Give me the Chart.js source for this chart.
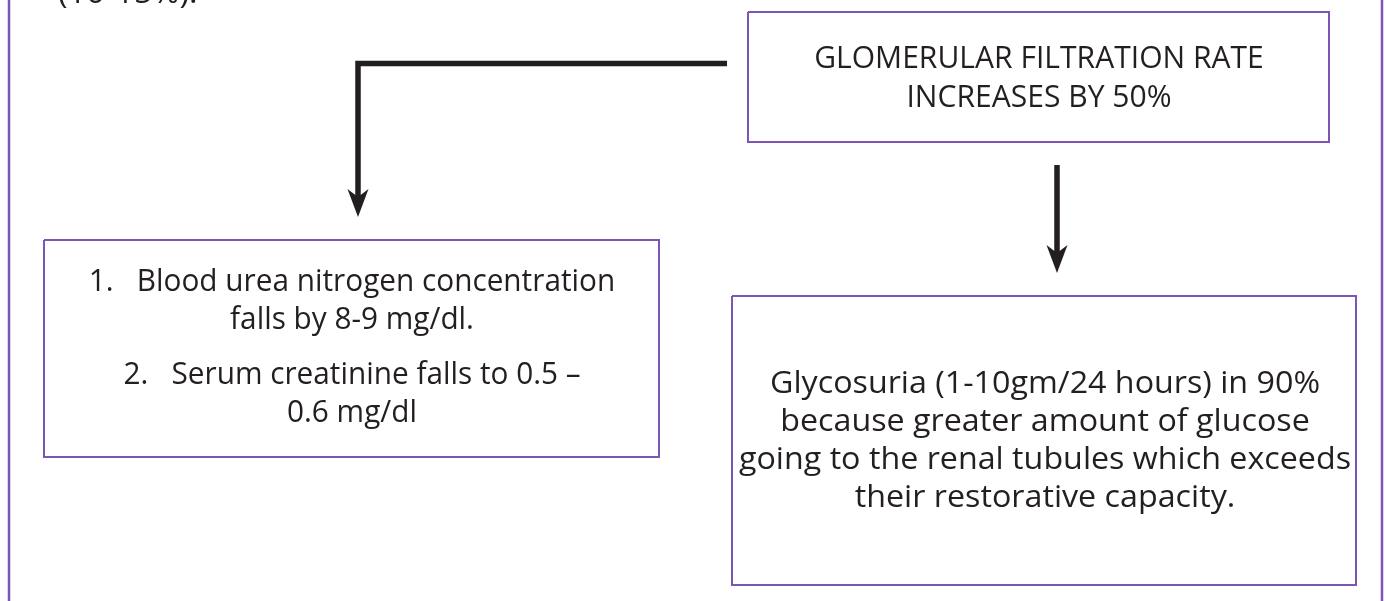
<!DOCTYPE html>
<html>
<head>
<meta charset="utf-8">
<script src="https://cdn.jsdelivr.net/npm/chart.js@4.4.1/dist/chart.umd.min.js"></script>
<style>
  html, body { margin: 0; padding: 0; background: #fff; }
  #wrap { width: 1386px; height: 601px; }
</style>
</head>
<body>
<div id="wrap"><canvas id="flow" width="1386" height="601"></canvas></div>
<script>
// diagram nodes (page units, y grows downward)
const nodeLeft   = [748, 44, 732];
const nodeRight  = [1329, 659, 1356];
const nodeTop    = [12, 240, 296];
const nodeBottom = [142, 457, 585];

// text rows: label, owning node, centre x, baseline y
const rowText = [
  'GLOMERULAR FILTRATION RATE',
  'INCREASES BY 50%',
  '1.   Blood urea nitrogen concentration',
  'falls by 8-9 mg/dl.',
  '2.   Serum creatinine falls to 0.5 –',
  '0.6 mg/dl',
  'Glycosuria (1-10gm/24 hours) in 90%',
  'because greater amount of glucose',
  'going to the renal tubules which exceeds',
  'their restorative capacity.'
];
const rowNode = [0, 0, 1, 1, 1, 1, 2, 2, 2, 2];
const rowX = [1039, 1039, 352, 352, 352, 352, 1045, 1045, 1045, 1045];
const rowY = [68, 107, 291, 329, 384, 422, 393, 431, 469, 507];

// clipped caption at the top of the page
const captionText = '(10-15%).';
const captionX = 58;
const captionY = 3;

// connectors: polyline points, arrow tip at the end
const elbowX = [727, 358, 358];
const elbowY = [63.5, 63.5, 200];
const dropX = [1057, 1057];
const dropY = [165, 256];
const tipX = [358, 1057];
const tipY = [217, 273];

// page frame sides
const frameX = [9, 1382];

const INK = '#231f20';
const PURPLE = '#7d55b4';
const FONT = '"Open Sans", "Noto Sans", sans-serif';
const nodeSqueeze = [0.97, 0.96, 1.04];

function pts(xs, ys) {
  return xs.map((x, i) => ({ x: x, y: ys[i] }));
}

function boxPts(i) {
  return pts(
    [nodeLeft[i], nodeRight[i], nodeRight[i], nodeLeft[i], nodeLeft[i]],
    [nodeTop[i], nodeTop[i], nodeBottom[i], nodeBottom[i], nodeTop[i]]
  );
}

const datasets = [];
frameX.forEach((fx) => {
  datasets.push({ data: pts([fx, fx], [0, 601]), borderColor: PURPLE, borderWidth: 2.5 });
});
nodeLeft.forEach((_, i) => {
  datasets.push({ data: boxPts(i), borderColor: PURPLE, borderWidth: 2, borderJoinStyle: 'miter' });
});
datasets.push({ data: pts(elbowX, elbowY), borderColor: INK, borderWidth: 5.5, borderJoinStyle: 'miter' });
datasets.push({ data: pts(dropX, dropY), borderColor: INK, borderWidth: 5.5 });

function squeezedText(ctx, t, px, py, sq) {
  ctx.save();
  ctx.translate(px, py);
  ctx.scale(sq, 1);
  ctx.fillText(t, 0, 0);
  ctx.restore();
}

const labels = {
  id: 'labels',
  afterDatasetsDraw(chart) {
    const ctx = chart.ctx;
    const sx = chart.scales.x, sy = chart.scales.y;
    ctx.save();
    ctx.fillStyle = INK;
    ctx.font = '31px ' + FONT;
    ctx.textBaseline = 'alphabetic';

    // arrow heads
    tipX.forEach((tx, i) => {
      const px = sx.getPixelForValue(tx), py = sy.getPixelForValue(tipY[i]);
      ctx.beginPath();
      ctx.moveTo(px, py);
      ctx.lineTo(px - 10.5, py - 28);
      ctx.lineTo(px, py - 20);
      ctx.lineTo(px + 10.5, py - 28);
      ctx.closePath();
      ctx.fill();
    });

    ctx.textAlign = 'center';
    rowText.forEach((t, i) => {
      squeezedText(ctx, t, sx.getPixelForValue(rowX[i]), sy.getPixelForValue(rowY[i]), nodeSqueeze[rowNode[i]]);
    });
    ctx.textAlign = 'left';
    squeezedText(ctx, captionText, sx.getPixelForValue(captionX), sy.getPixelForValue(captionY), 1.05);
    ctx.restore();
  }
};

new Chart(document.getElementById('flow'), {
  type: 'scatter',
  data: { datasets: datasets.map((d) => Object.assign({ showLine: true, pointRadius: 0, fill: false, borderCapStyle: 'butt', clip: false }, d)) },
  options: {
    responsive: false,
    animation: false,
    layout: { padding: 0 },
    plugins: { legend: { display: false }, tooltip: { enabled: false } },
    scales: {
      x: { type: 'linear', min: 0, max: 1386, display: false },
      y: { type: 'linear', min: 0, max: 601, reverse: true, display: false }
    }
  },
  plugins: [labels]
});
</script>
</body>
</html>
